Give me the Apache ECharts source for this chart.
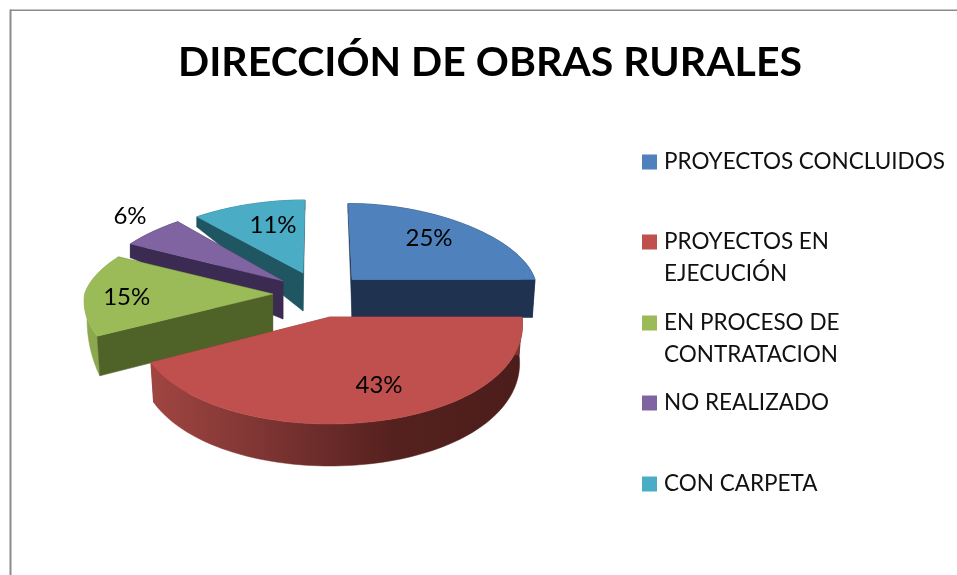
<!DOCTYPE html>
<html><head><meta charset="utf-8">
<style>html,body{margin:0;padding:0;background:#fff}#c{width:957px;height:575px}</style>
<script src="https://cdn.jsdelivr.net/npm/echarts@6/dist/echarts.min.js"></script>
</head><body><div id="c"></div>
<script>
const titleText = 'DIRECCIÓN DE OBRAS RURALES';
const categories = ['PROYECTOS CONCLUIDOS', 'PROYECTOS EN EJECUCIÓN', 'EN PROCESO DE CONTRATACION', 'NO REALIZADO', 'CON CARPETA'];
const values = [25, 43, 15, 6, 11];

// presentation only
const legendFirstLine = ['PROYECTOS CONCLUIDOS', 'PROYECTOS EN', 'EN PROCESO DE', 'NO REALIZADO', 'CON CARPETA'];
const legendSecondLine = ['', 'EJECUCIÓN', 'CONTRATACION', '', ''];
const legendCentreY = [162, 242, 323, 403, 484];
const topColors = ['#4F81BD', '#C0504D', '#9BBB59', '#8064A2', '#4BACC6'];
const cutColors = ['#1F3350', '#7a3331', '#4F6228', '#3B2A52', '#205562'];
const rimColors = ['#1F3350', null, '#8CA84F', '#3B2A52', '#205562'];
const pieCentre = [330, 317];
const explode = [[22, -37.5], [0, 0], [-57.3, -23], [-47, -36], [-27, -44]];
const radiusX = [183, 192, 188, 186, 186];
const radiusBack = [76, 76, 77, 77, 73];
const radiusFront = [104, 107, 99, 104, 104];
const rimDepthFloor = [1, 1, 0.35, 1, 1];
const labelOffset = [[77, -41], [49, 68], [-146, 3], [-153, -65], [-30, -48]];
const paintOrder = [4, 3, 2, 0, 1];
const BASE_DEPTH = 38;

const total = values.reduce((a, b) => a + b, 0);
const starts = [];
values.reduce((acc, v, i) => { starts[i] = acc; return acc + v; }, 0);

// Angle measured clockwise on screen from 3 o'clock; first slice starts at 12 o'clock.
const angleOf = share => (share / total) * 2 * Math.PI - Math.PI / 2;

function topPoint(i, t) {
  const s = Math.sin(t), c = Math.cos(t);
  const ax = pieCentre[0] + explode[i][0], ay = pieCentre[1] + explode[i][1];
  const rx = radiusX[i] + (s < 0 ? 24 * s : 14 * s);
  const ry = s < 0 ? radiusBack[i] : radiusFront[i];
  const lean = s < 0 ? (319 - ax) * 0.12 * s * s * s * s : 0;
  return [ax + rx * c + lean, ay + ry * s];
}
function wallDepth(t) {
  const s = Math.sin(t);
  return s >= 0 ? BASE_DEPTH + 4 * s : 10 + (BASE_DEPTH - 10) * Math.pow(1 + s, 3);
}
function bottomPoint(i, t) {
  const s = Math.sin(t);
  const ax = pieCentre[0] + explode[i][0];
  const p = topPoint(i, t);
  const f = s >= 0 ? 0.985 : 0.985 + 0.015 * Math.min(1, -s / 0.3);
  return [ax + (p[0] - ax) * f, p[1] + wallDepth(t)];
}
function rimBottomPoint(i, t) {
  const p = bottomPoint(i, t), q = topPoint(i, t), s = Math.sin(t);
  const floor = rimDepthFloor[i];
  const k = s <= 0 ? floor : Math.min(1, floor + (1 - floor) * s / 0.42);
  return [p[0], q[1] + (p[1] - q[1]) * k];
}
function apexTop(i) { return [pieCentre[0] + explode[i][0], pieCentre[1] + explode[i][1]]; }
function apexBottom(i) { const a = apexTop(i); return [a[0], a[1] + BASE_DEPTH]; }

function arc(fn, i, t0, t1) {
  const n = Math.max(2, Math.ceil(Math.abs(t1 - t0) / 0.03)), pts = [];
  for (let k = 0; k <= n; k++) pts.push(fn(i, t0 + (t1 - t0) * k / n));
  return pts;
}
function poly(points, fill) {
  return { type: 'polygon', shape: { points }, style: { fill, stroke: fill, lineWidth: 0.5 }, silent: true };
}
const redWall = new echarts.graphic.LinearGradient(0, 0, 1, 0, [
  { offset: 0, color: '#A04542' }, { offset: 0.3, color: '#7E3533' },
  { offset: 0.65, color: '#55211E' }, { offset: 1, color: '#4B1D1B' }
]);

function renderSlice(i) {
  const t0 = angleOf(starts[i]), t1 = angleOf(starts[i] + values[i]);
  const kids = [];
  const radial = t => [apexTop(i), topPoint(i, t), bottomPoint(i, t), apexBottom(i)];
  kids.push(poly(radial(t1), cutColors[i]));
  const rim = arc(topPoint, i, t0, t1).concat(arc(rimBottomPoint, i, t1, t0));
  kids.push(poly(rim, rimColors[i] || redWall));
  kids.push(poly(radial(t0), cutColors[i]));
  kids.push(poly([apexTop(i)].concat(arc(topPoint, i, t0, t1)), topColors[i]));
  const a = apexTop(i);
  kids.push({
    type: 'text', silent: true,
    style: {
      x: a[0] + labelOffset[i][0], y: a[1] + labelOffset[i][1],
      text: values[i] + '%', fill: '#000', align: 'center', verticalAlign: 'middle',
      font: '24px Lato'
    }
  });
  return { type: 'group', children: kids };
}

const series = paintOrder.map(i => ({
  type: 'custom', name: categories[i], coordinateSystem: 'none',
  z: 2 + paintOrder.indexOf(i), silent: true,
  itemStyle: { color: topColors[i] },
  data: [values[i]],
  renderItem: () => renderSlice(i)
}));

const legend = categories.map((name, i) => ({
  data: [name], left: 642, top: legendCentreY[i] - 15, orient: 'vertical',
  padding: 0, itemWidth: 15, itemHeight: 15, selectedMode: false,
  icon: 'rect', itemStyle: { color: topColors[i] },
  textStyle: { fontFamily: 'Lato', fontSize: 22.5, color: '#111', lineHeight: 30, padding: [0, 0, 0, 2] },
  formatter: () => legendFirstLine[i]
}));

const graphic = [
  { type: 'rect', shape: { x: 10, y: 9.5, width: 947, height: 1.5 }, style: { fill: '#8C8C8C' } },
  { type: 'rect', shape: { x: 9.5, y: 9.5, width: 2, height: 566 }, style: { fill: '#8C8C8C' } }
];
legendSecondLine.forEach((line, i) => {
  if (line) graphic.push({
    type: 'text', style: { x: 664, y: legendCentreY[i] + 32, text: line, fill: '#111',
      font: '22.5px Lato', verticalAlign: 'middle' }
  });
});

const chart = echarts.init(document.getElementById('c'), null, { renderer: 'canvas' });
chart.setOption({
  animation: false,
  backgroundColor: '#fff',
  title: { text: titleText, left: 178, top: 42, padding: 0,
    textStyle: { fontFamily: 'Lato', fontWeight: 'bold', fontSize: 41, color: '#000' } },
  legend, graphic, series
});
</script></body></html>
